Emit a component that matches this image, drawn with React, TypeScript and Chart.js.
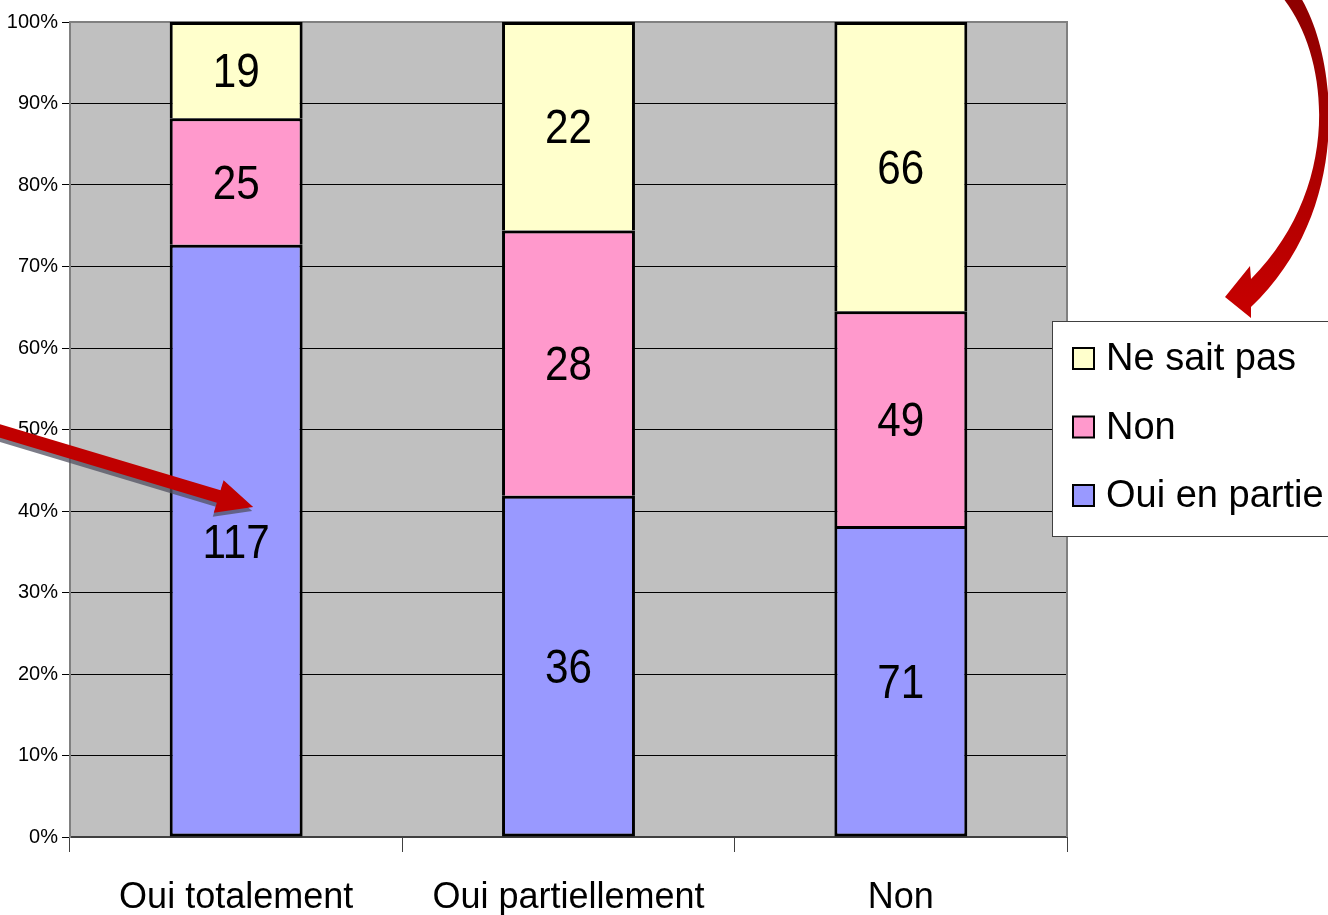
import React, { useEffect, useRef } from 'react';
import { Chart, registerables } from 'chart.js';

Chart.register(...registerables);

const categories = ['Oui totalement', 'Oui partiellement', 'Non'];
const seriesLabels = ['Oui en partie', 'Non', 'Ne sait pas'];
const ouiEnPartie = [117, 36, 71];
const nonValues = [25, 28, 49];
const neSaitPas = [19, 22, 66];
const seriesColors = ['#9999FF', '#FF99CC', '#FFFFCC'];
const yTickValues = [0, 10, 20, 30, 40, 50, 60, 70, 80, 90, 100];

const FONT = "'Liberation Sans', Arial, sans-serif";

function arrowPoly(x0: number, y0: number, x1: number, y1: number, sw: number, hl: number, hw: number) {
  const dx = x1 - x0, dy = y1 - y0;
  const L = Math.hypot(dx, dy);
  const ux = dx / L, uy = dy / L;
  const px = -uy, py = ux;
  const bx = x1 - ux * hl, by = y1 - uy * hl;
  return [
    [x0 + (px * sw) / 2, y0 + (py * sw) / 2],
    [bx + (px * sw) / 2, by + (py * sw) / 2],
    [bx + (px * hw) / 2, by + (py * hw) / 2],
    [x1, y1],
    [bx - (px * hw) / 2, by - (py * hw) / 2],
    [bx - (px * sw) / 2, by - (py * sw) / 2],
    [x0 - (px * sw) / 2, y0 - (py * sw) / 2],
  ];
}

function fillPoly(ctx: CanvasRenderingContext2D, pts: number[][], color: string) {
  ctx.beginPath();
  pts.forEach((p, i) => (i === 0 ? ctx.moveTo(p[0], p[1]) : ctx.lineTo(p[0], p[1])));
  ctx.closePath();
  ctx.fillStyle = color;
  ctx.fill();
}

export default function App() {
  const ref = useRef<HTMLCanvasElement>(null);

  useEffect(() => {
    const canvas = ref.current!;
    const counts = [ouiEnPartie, nonValues, neSaitPas];
    const totals = categories.map((_, i) => counts.reduce((s, arr) => s + arr[i], 0));

    const datasets = counts.map((arr, k) => ({
      label: seriesLabels[k],
      data: arr.map((v, i) => (v / totals[i]) * 100),
      backgroundColor: seriesColors[k],
      borderColor: '#000000',
      borderWidth: { top: 3, left: 3, right: 3, bottom: k === 0 ? 3 : 0 },
      borderSkipped: false,
      barPercentage: 0.4,
      categoryPercentage: 1,
    }));

    const bgPlugin = {
      id: 'plotBg',
      beforeDraw(chart: any) {
        const { ctx, chartArea: a } = chart;
        ctx.save();
        ctx.fillStyle = '#ffffff';
        ctx.fillRect(0, 0, chart.width, chart.height);
        ctx.fillStyle = '#C0C0C0';
        ctx.fillRect(a.left, a.top, a.right - a.left, a.bottom - a.top);
        ctx.restore();
      },
      beforeDatasetsDraw(chart: any) {
        const { ctx, chartArea: a } = chart;
        ctx.save();
        ctx.strokeStyle = '#808080';
        ctx.lineWidth = 2;
        ctx.beginPath();
        ctx.moveTo(a.left, a.top);
        ctx.lineTo(a.right, a.top);
        ctx.lineTo(a.right, a.bottom);
        ctx.stroke();
        ctx.restore();
      },
    };

    const labelPlugin = {
      id: 'segLabels',
      afterDatasetsDraw(chart: any) {
        const ctx = chart.ctx;
        const size = 48;
        chart.data.datasets.forEach((_: any, di: number) => {
          const meta = chart.getDatasetMeta(di);
          meta.data.forEach((el: any, i: number) => {
            const { x, y, base } = el.getProps(['x', 'y', 'base'], true);
            const cy = (y + base) / 2;
            ctx.save();
            ctx.translate(x, cy + (size * 0.716) / 2);
            ctx.scale(0.88, 1);
            ctx.font = `${size}px ${FONT}`;
            ctx.fillStyle = '#000';
            ctx.textAlign = 'center';
            ctx.textBaseline = 'alphabetic';
            ctx.fillText(String(counts[di][i]), 0, 0);
            ctx.restore();
          });
        });
      },
    };

    const decoPlugin = {
      id: 'deco',
      afterDraw(chart: any) {
        const { ctx, chartArea: a } = chart;
        const xs = chart.scales.x;
        const ys = chart.scales.y;
        ctx.save();
        // straight arrow pointing at first bar
        const tipX = xs.getPixelForValue(0) + 17;
        const tipY = ys.getPixelForValue(40.5);
        const poly = arrowPoly(-20, tipY - 82, tipX, tipY, 13, 36, 34);
        fillPoly(ctx, poly.map((p) => [p[0] - 1, p[1] + 4]), 'rgba(80,80,96,0.75)');
        fillPoly(ctx, poly, '#C00000');

        // curved arrow pointing at the legend
        const lx = a.right - 15;
        const ly = 321;
        const grad = ctx.createLinearGradient(0, 0, 0, ly);
        grad.addColorStop(0, '#8E0000');
        grad.addColorStop(1, '#C80000');
        ctx.fillStyle = grad;
        ctx.beginPath();
        ctx.moveTo(1301, -2);
        ctx.bezierCurveTo(1338, 60, 1353, 210, 1251, ly - 14);
        ctx.lineTo(1251, ly - 3);
        ctx.lineTo(lx + 173, ly - 24);
        ctx.lineTo(1250, ly - 55);
        ctx.lineTo(1251, ly - 42);
        ctx.bezierCurveTo(1340, 190, 1332, 60, 1283, -2);
        ctx.closePath();
        ctx.fill();

        // legend box
        const top = ly;
        const bottom = 536;
        ctx.fillStyle = '#ffffff';
        ctx.fillRect(lx, top, 400, bottom - top);
        ctx.strokeStyle = '#404040';
        ctx.lineWidth = 1;
        ctx.strokeRect(lx + 0.5, top + 0.5, 400, bottom - top);
        const order = [2, 1, 0];
        order.forEach((di, j) => {
          const baseY = 370 + j * 68.5;
          ctx.fillStyle = seriesColors[di];
          ctx.fillRect(lx + 21, baseY - 22, 21, 21);
          ctx.strokeStyle = '#000';
          ctx.lineWidth = 2;
          ctx.strokeRect(lx + 21, baseY - 22, 21, 21);
          ctx.font = `38px ${FONT}`;
          ctx.fillStyle = '#000';
          ctx.textAlign = 'left';
          ctx.textBaseline = 'alphabetic';
          ctx.fillText(chart.data.datasets[di].label, lx + 54, baseY);
        });
        ctx.restore();
      },
    };

    const chart = new Chart(canvas, {
      type: 'bar',
      data: { labels: categories, datasets: datasets as any },
      options: {
        animation: false,
        responsive: false,
        devicePixelRatio: 1,
        layout: { padding: { left: 0, right: 261, top: 22, bottom: 0 } },
        plugins: { legend: { display: false }, tooltip: { enabled: false } },
        scales: {
          x: {
            stacked: true,
            afterFit: (s: any) => {
              s.height = 78;
            },
            grid: {
              display: true,
              offset: true,
              drawOnChartArea: false,
              drawTicks: true,
              tickLength: 15,
              color: '#404040',
              lineWidth: 1,
            },
            border: { display: true, color: '#404040', width: 2 },
            ticks: { color: '#000', padding: 24, font: { size: 36, family: FONT } },
          },
          y: {
            stacked: true,
            min: 0,
            max: 100,
            afterFit: (s: any) => {
              s.width = 70;
            },
            afterBuildTicks: (s: any) => {
              s.ticks = yTickValues.map((v) => ({ value: v }));
            },
            grid: { color: '#000', lineWidth: 1, tickLength: 8, drawTicks: true },
            border: { display: true, color: '#808080', width: 2 },
            ticks: {
              color: '#000',
              padding: 4,
              font: { size: 20, family: FONT },
              callback: (v: any) => `${v}%`,
            },
          },
        },
      },
      plugins: [bgPlugin, labelPlugin, decoPlugin],
    });

    return () => chart.destroy();
  }, []);

  return (
    <div style={{ position: 'fixed', left: 0, top: 0, width: 1328, height: 915, background: '#fff' }}>
      <canvas ref={ref} width={1328} height={915} style={{ display: 'block' }} />
    </div>
  );
}
